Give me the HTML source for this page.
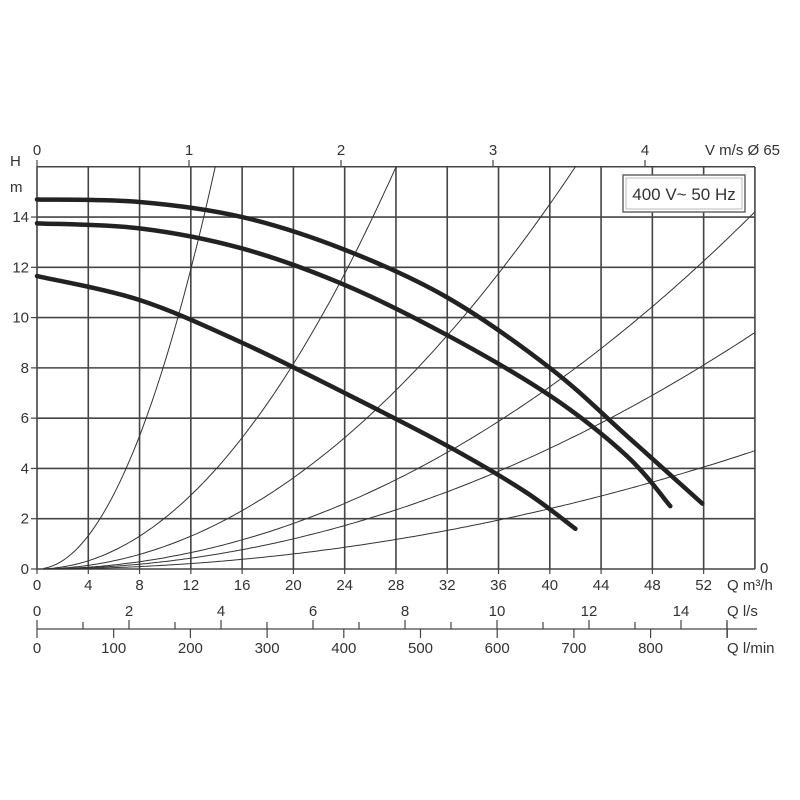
<!DOCTYPE html>
<html><head><meta charset="utf-8"><style>
html,body{margin:0;padding:0;background:#fff;}
svg{display:block;}
text{font-family:"Liberation Sans",sans-serif;font-size:15px;fill:#333;}
</style></head><body>
<svg id="s" width="800" height="800" viewBox="0 0 800 800" xmlns="http://www.w3.org/2000/svg">
<g id="g"></g>
</svg>
<script>
const X=q=>37+q*12.82, Y=h=>569-h*25.14;
let o='';
for(let q=0;q<=56;q+=4){o+=`<line x1="${X(q)}" y1="167" x2="${X(q)}" y2="569" stroke="#444" stroke-width="1.6"/>`;}
for(let h=0;h<=16;h+=2){o+=`<line x1="37" y1="${Y(h)}" x2="755" y2="${Y(h)}" stroke="#444" stroke-width="1.6"/>`;}
for(let h=0;h<=14;h+=2){o+=`<line x1="31" y1="${Y(h)}" x2="37" y2="${Y(h)}" stroke="#444" stroke-width="1.2"/><text x="29" y="${Y(h)+5}" text-anchor="end">${h}</text>`;}
o+=`<text x="10" y="166">H</text><text x="10" y="192">m</text>`;
for(let q=0;q<=52;q+=4){o+=`<line x1="${X(q)}" y1="569" x2="${X(q)}" y2="574" stroke="#444" stroke-width="1.2"/><text x="${X(q)}" y="590" text-anchor="middle">${q}</text>`;}
o+=`<text x="727" y="590">Q m³/h</text><text x="760" y="573">0</text>`;
const V=v=>37+v*152;
for(let v=0;v<=4;v++){o+=`<line x1="${V(v)}" y1="160" x2="${V(v)}" y2="167" stroke="#444" stroke-width="1.2"/><text x="${V(v)}" y="155" text-anchor="middle">${v}</text>`;}
o+=`<text x="705" y="155">V m/s Ø 65</text>`;
[0.0828,0.0204,0.00907,0.00453,0.0030,0.0015].forEach(k=>{
 let p=[];for(let q=0.5;q<=56;q+=0.25){let h=k*q*q;if(h>16){let qq=Math.sqrt(16/k);p.push(X(qq)+','+Y(16));break;}p.push(X(q).toFixed(1)+','+Y(h).toFixed(1));}
 o+=`<polyline points="${p.join(' ')}" fill="none" stroke="#333" stroke-width="1"/>`;
});
function spline(pts){let d='M'+X(pts[0][0])+','+Y(pts[0][1]);
 for(let i=0;i<pts.length-1;i++){const p0=pts[i-1]||pts[i],p1=pts[i],p2=pts[i+1],p3=pts[i+2]||p2;
  const c1=[p1[0]+(p2[0]-p0[0])/6,p1[1]+(p2[1]-p0[1])/6],c2=[p2[0]-(p3[0]-p1[0])/6,p2[1]-(p3[1]-p1[1])/6];
  d+=` C${X(c1[0])},${Y(c1[1])} ${X(c2[0])},${Y(c2[1])} ${X(p2[0])},${Y(p2[1])}`;}
 return `<path d="${d}" fill="none" stroke="#222" stroke-width="4.5" stroke-linecap="round"/>`;}
o+=spline([[0,14.7],[8,14.6],[16,14],[24,12.7],[32,10.8],[40,8],[46,5.3],[51.9,2.6]]);
o+=spline([[0,13.75],[8,13.55],[16,12.75],[24,11.3],[32,9.3],[40,6.9],[46,4.5],[49.4,2.5]]);
o+=spline([[0,11.65],[8,10.7],[16,9],[24,7],[32,4.9],[38,3.1],[42,1.6]]);
o+=`<rect x="623" y="175" width="122" height="37" fill="#fff" stroke="#666" stroke-width="1.5"/><rect x="626" y="178" width="116" height="31" fill="none" stroke="#bbb" stroke-width="1"/><text x="684" y="200" text-anchor="middle" style="font-size:17px">400 V~ 50 Hz</text>`;
o+=`<line x1="37" y1="629" x2="757" y2="629" stroke="#444" stroke-width="1.3"/>`;
for(let l=0;l<=15;l++){const x=37+l*46;o+=`<line x1="${x}" y1="${l%2?622:620}" x2="${x}" y2="629" stroke="#444" stroke-width="1.2"/>`;if(l%2==0)o+=`<text x="${x}" y="616" text-anchor="middle">${l}</text>`;}
for(let m=0;m<=900;m+=100){const x=37+m*0.767;o+=`<line x1="${x}" y1="629" x2="${x}" y2="638" stroke="#444" stroke-width="1.2"/>`;if(m<=800)o+=`<text x="${x}" y="653" text-anchor="middle">${m}</text>`;}
o+=`<line x1="727" y1="620" x2="727" y2="638" stroke="#444" stroke-width="1.2"/>`;
o+=`<text x="727" y="616">Q l/s</text><text x="727" y="653">Q l/min</text>`;
document.getElementById('g').innerHTML=o;
</script>
</body></html>
